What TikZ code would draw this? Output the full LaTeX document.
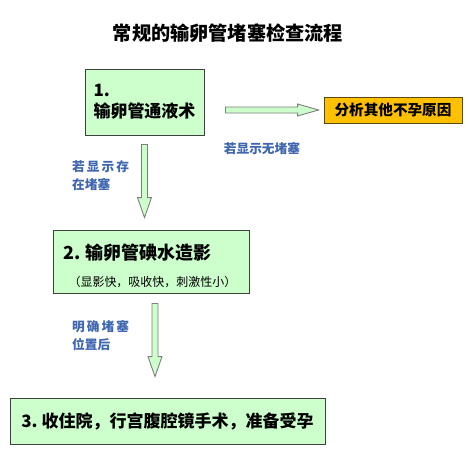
\documentclass[tikz,border=0pt]{standalone}
\usepackage{fontspec}
\setmainfont{Noto Sans CJK SC}
\usetikzlibrary{calc}
\definecolor{boxgreen}{HTML}{CCFFCC}
\definecolor{boxline}{HTML}{404040}
\definecolor{orangefill}{HTML}{FFC000}
\definecolor{orangeline}{HTML}{5A4A10}
\definecolor{labelblue}{HTML}{3F66B0}
\definecolor{arrowline}{HTML}{7F7F7F}
\newcommand\vblock[2]{%
  \draw[blk] let \p1=(#1), \p2=(#2) in
    ({\x1-3pt},{\y1}) -- ({\x1-3pt},{\y2+20pt}) -- ({\x1-7pt},{\y2+20pt}) --
    ({\x1},{\y2}) -- ({\x1+7pt},{\y2+20pt}) -- ({\x1+3pt},{\y2+20pt}) --
    ({\x1+3pt},{\y1}) -- cycle;}
\newcommand\hblock[2]{%
  \draw[blk] let \p1=(#1), \p2=(#2) in
    ({\x1},{\y1+3pt}) -- ({\x2-21pt},{\y1+3pt}) -- ({\x2-21pt},{\y1+6pt}) --
    ({\x2},{\y1}) -- ({\x2-21pt},{\y1-6pt}) -- ({\x2-21pt},{\y1-3pt}) --
    ({\x1},{\y1-3pt}) -- cycle;}
\tikzset{
  gbox/.style={draw=boxline, line width=0.9pt, fill=boxgreen, rectangle, inner sep=0pt},
  obox/.style={draw=orangeline, line width=0.9pt, fill=orangefill, rectangle, inner sep=0pt},
  blk/.style={draw=arrowline, line width=0.9pt, fill=boxgreen},
  lbl/.style={text=labelblue, font=\fontsize{12.7}{18}\selectfont\bfseries, inner sep=0pt},
}
\begin{document}
\begin{tikzpicture}[x=1pt,y=-1pt]
\useasboundingbox[fill=white] (0,0) rectangle (475,455);
% title
\node[font=\fontsize{19.2}{22}\selectfont\bfseries, inner sep=0pt] (title) at (228,33) {常规的输卵管堵塞检查流程};
% box 1
\node[gbox, minimum width=119pt, minimum height=66pt, align=left,
      font=\fontsize{17}{21}\selectfont\bfseries] (b1) at (144.5,102) {1.\\输卵管通液术};
% orange box
\node[obox, minimum width=138pt, minimum height=26pt,
      font=\fontsize{14.6}{17}\selectfont\bfseries] (o) at (393,110) {分析其他不孕原因};
% box 2
\node[gbox, minimum width=196pt, minimum height=63pt] (b2) at (151,261.5) {};
\node[anchor=west, inner sep=0pt, font=\fontsize{18}{20}\selectfont\bfseries] (b2a) at (63,253) {2.\hspace{5pt}输卵管碘水造影};
\node[inner sep=0pt, font=\fontsize{12}{14}\selectfont] (b2b) at (152.5,282) {（显影快，吸收快，刺激性小）};
% box 3
\node[gbox, minimum width=315pt, minimum height=46pt,
      font=\fontsize{17}{20}\selectfont\bfseries] (b3) at (167.5,421) {3.\hspace{4pt}收住院，行宫腹腔镜手术，准备受孕};
% arrow coordinates
\coordinate (r1s) at ($(b1.east |- o.west)+(21,0)$);
\coordinate (r1e) at ($(o.west)+(-5,0)$);
\coordinate (d1s) at ($(b1.south)+(0,9)$);
\coordinate (d1e) at ($(b1.south |- b2.north)+(0,-12)$);
\coordinate (d2s) at ($(b2.south)+(4,10)$);
\coordinate (d2e) at ($(d2s |- b3.north)+(0,-21)$);
\hblock{r1s}{r1e}
\vblock{d1s}{d1e}
\vblock{d2s}{d2e}
% labels
\node[lbl] (l1) at (262,149) {若显示无堵塞};
\node[lbl, anchor=west] (l2a) at (72,167) {若\hspace{2pt}显\hspace{2pt}示\hspace{2pt}存};
\node[lbl, anchor=west] (l2b) at (72,185) {在堵塞};
\node[lbl, anchor=west] (l3a) at (72,327) {明\hspace{2pt}确\hspace{2pt}堵\hspace{2pt}塞};
\node[lbl, anchor=west] (l3b) at (72,345) {位置后};
\end{tikzpicture}
\end{document}
